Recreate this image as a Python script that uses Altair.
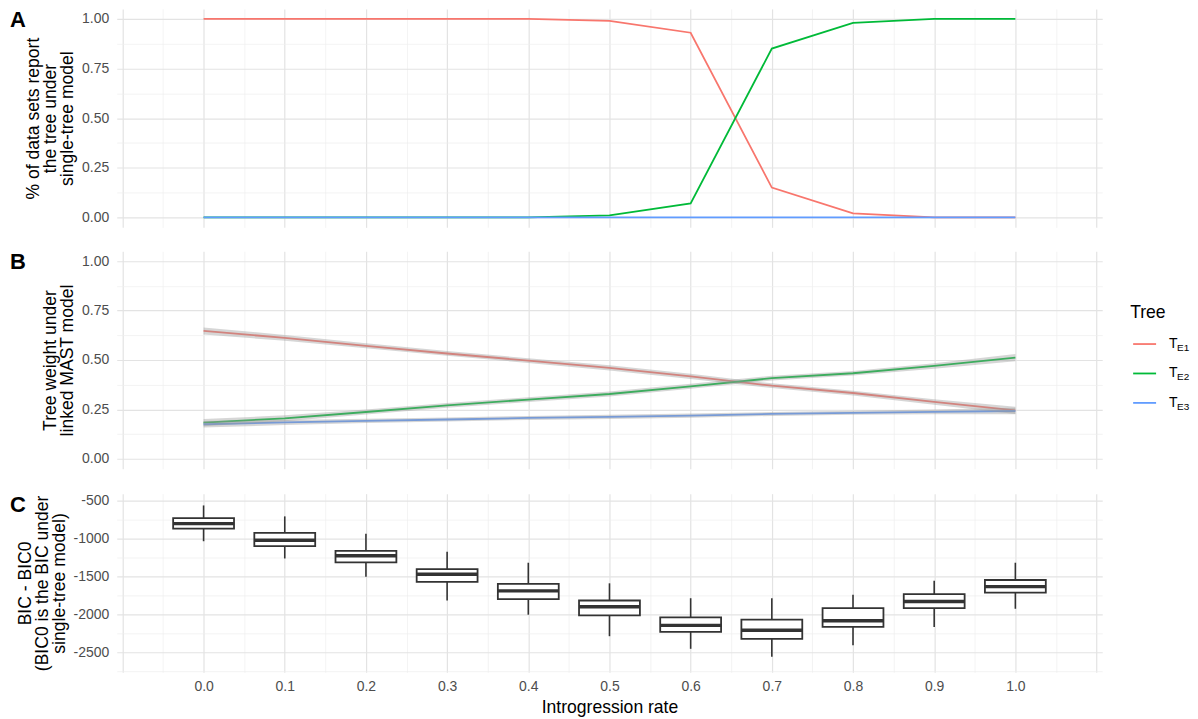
import altair as alt
import pandas as pd

# ---------------- data ----------------
rates = [0.0, 0.1, 0.2, 0.3, 0.4, 0.5, 0.6, 0.7, 0.8, 0.9, 1.0]
trees = ["TE1", "TE2", "TE3"]
tree_sub = ["E1", "E2", "E3"]
tree_colors = ["#F8766D", "#00BA38", "#619CFF"]

# Panel A: share of data sets reporting each tree under single-tree model
a_te1 = [1.0, 1.0, 1.0, 1.0, 1.0, 0.99, 0.93, 0.15, 0.02, 0.0, 0.0]
a_te2 = [0.0, 0.0, 0.0, 0.0, 0.0, 0.01, 0.07, 0.85, 0.98, 1.0, 1.0]
a_te3 = [0.0, 0.0, 0.0, 0.0, 0.0, 0.0, 0.0, 0.0, 0.0, 0.0, 0.0]

# Panel B: smoothed tree weight under linked MAST model (+ ribbon half width)
b_te1 = [0.647, 0.612, 0.572, 0.533, 0.497, 0.460, 0.417, 0.370, 0.333, 0.288, 0.245]
b_te2 = [0.183, 0.205, 0.237, 0.270, 0.300, 0.328, 0.367, 0.408, 0.433, 0.470, 0.512]
b_te3 = [0.175, 0.184, 0.192, 0.199, 0.207, 0.212, 0.219, 0.227, 0.233, 0.238, 0.242]
b_half1 = [0.018, 0.015, 0.013, 0.012, 0.012, 0.013, 0.013, 0.012, 0.012, 0.014, 0.018]
b_half2 = [0.018, 0.015, 0.013, 0.012, 0.012, 0.013, 0.013, 0.012, 0.012, 0.014, 0.018]
b_half3 = [0.016, 0.013, 0.011, 0.010, 0.010, 0.011, 0.011, 0.010, 0.010, 0.012, 0.016]

# Panel C: BIC - BIC0 box plots
c_wlo = [-1036, -1263, -1502, -1816, -2003, -2286, -2452, -2556, -2405, -2164, -1925]
c_q1 = [-870, -1101, -1314, -1572, -1798, -2012, -2229, -2321, -2164, -1916, -1712]
c_med = [-805, -1023, -1227, -1471, -1690, -1899, -2143, -2208, -2082, -1829, -1633]
c_q3 = [-731, -927, -1162, -1402, -1598, -1816, -2038, -2069, -1916, -1733, -1546]
c_whi = [-565, -709, -936, -1175, -1319, -1590, -1786, -1786, -1742, -1555, -1319]

# tick / grid values
x_grid = [-0.1, -0.05, 0.0, 0.05, 0.1, 0.15, 0.2, 0.25, 0.3, 0.35, 0.4, 0.45, 0.5,
          0.55, 0.6, 0.65, 0.7, 0.75, 0.8, 0.85, 0.9, 0.95, 1.0, 1.05, 1.1]
y_grid_ab = [0.0, 0.125, 0.25, 0.375, 0.5, 0.625, 0.75, 0.875, 1.0]
y_grid_c = [-2750, -2500, -2250, -2000, -1750, -1500, -1250, -1000, -750, -500]
y_labels_c = {-2500: "-2500", -2000: "-2000", -1500: "-1500", -1000: "-1000", -500: "-500"}

# ---------------- tables ----------------
dfA = pd.DataFrame({
    "rate": rates * 3,
    "tree": [trees[0]] * 11 + [trees[1]] * 11 + [trees[2]] * 11,
    "value": a_te1 + a_te2 + a_te3,
})
dfB = pd.DataFrame({
    "rate": rates * 3,
    "tree": [trees[0]] * 11 + [trees[1]] * 11 + [trees[2]] * 11,
    "value": b_te1 + b_te2 + b_te3,
    "half": b_half1 + b_half2 + b_half3,
})
dfC = pd.DataFrame({"rate": rates, "wlo": c_wlo, "q1": c_q1, "med": c_med,
                    "q3": c_q3, "whi": c_whi})
dfLeg = pd.DataFrame({"tree": trees, "sub": tree_sub, "T": ["T"] * 3})

# ---------------- styling ----------------
FONT = "Liberation Sans"
MAJOR = "#e3e3e3"
MINOR = "#eeeeee"

W = 988
HA, HB, HC = 219, 218, 179
xscale = alt.Scale(domain=[-0.107, 1.107], nice=False, zero=False)
color = alt.Color("tree:N", scale=alt.Scale(domain=trees, range=tree_colors), legend=None)

minor_x = "abs(round(datum.value*20)) % 2 == 1"
minor_y = "abs(round(datum.value*8)) % 2 == 1"
minor_c = "abs(round(datum.value/250)) % 2 == 1"


def grid_props(test):
    return dict(
        gridColor=alt.condition(test, alt.value(MINOR), alt.value(MAJOR)),
        gridWidth=alt.condition(test, alt.value(0.7), alt.value(1.2)),
    )


x_axis_blank = alt.Axis(values=x_grid, labels=False, ticks=False, domain=False,
                        title=None, grid=True, **grid_props(minor_x))
x_axis_c = alt.Axis(values=x_grid, ticks=False, domain=False, grid=True,
                    title="Introgression rate", labelOverlap=False, labelFlush=False,
                    labelExpr="(" + minor_x + " || datum.value < -0.01 || datum.value > 1.01) ? '' : format(datum.value, '.1f')",
                    labelPadding=7, titlePadding=5, **grid_props(minor_x))


def y_axis_ab(title):
    return alt.Axis(values=y_grid_ab, ticks=False, domain=False, grid=True,
                    title=title, labelOverlap=False,
                    labelExpr=minor_y + " ? '' : format(datum.value, '.2f')",
                    **grid_props(minor_y))


lab_c = " : ".join(
    "datum.value == %d ? '%s'" % (k, v) for k, v in y_labels_c.items()) + " : ''"
y_axis_c = alt.Axis(values=y_grid_c, ticks=False, domain=False, grid=True,
                    title=["BIC - BIC0", "(BIC0 is the BIC under", "single-tree model)"],
                    labelOverlap=False, labelFlush=False,
                    labelExpr=lab_c,
                    **grid_props(minor_c))


def letter(t):
    return alt.Chart(pd.DataFrame({"t": [t]})).mark_text(
        fontSize=22, fontWeight="bold", font=FONT, align="left", baseline="middle",
        color="black").encode(text="t:N", x=alt.value(-107), y=alt.value(11))


# ---------------- panel A ----------------
yA = alt.Scale(domain=[-0.05, 1.05], nice=False, zero=False)
lineA = alt.Chart(dfA).mark_line(strokeWidth=1.8).encode(
    x=alt.X("rate:Q", scale=xscale, axis=x_axis_blank),
    y=alt.Y("value:Q", scale=yA,
            axis=y_axis_ab(["% of data sets report", "the tree under", "single-tree model"])),
    color=color,
)
panelA = alt.layer(lineA, letter("A")).properties(width=W, height=HA)

# ---------------- panel B ----------------
yB = alt.Scale(domain=[-0.05, 1.05], nice=False, zero=False)
yaxB = y_axis_ab(["Tree weight under", "linked MAST model"])
lineB = alt.Chart(dfB).mark_line(strokeWidth=1.8).encode(
    x=alt.X("rate:Q", scale=xscale, axis=x_axis_blank),
    y=alt.Y("value:Q", scale=yB, axis=yaxB),
    color=color,
)
ribbonB = alt.Chart(dfB).transform_calculate(
    lo="datum.value - datum.half", hi="datum.value + datum.half"
).mark_area(color="#999999", opacity=0.4).encode(
    x=alt.X("rate:Q", scale=xscale, axis=x_axis_blank),
    y=alt.Y("lo:Q", scale=yB, axis=yaxB),
    y2="hi:Q",
    detail="tree:N",
)
dataB = alt.layer(lineB, ribbonB)

legY = alt.Y("tree:N", scale=alt.Scale(type="point", domain=trees, range=[93, 152], padding=0),
             axis=None)
legRule = alt.Chart(dfLeg).mark_rule(strokeWidth=1.8).encode(
    x=alt.value(1019), x2=alt.value(1042), y=legY, color=color)
legT = alt.Chart(dfLeg).mark_text(fontSize=14, font=FONT, align="left", baseline="middle",
                                  color="black").encode(x=alt.value(1055), y=legY, text="T:N")
legSub = alt.Chart(dfLeg).mark_text(fontSize=10, font=FONT, align="left", baseline="middle",
                                    color="black", dy=4).encode(x=alt.value(1063), y=legY, text="sub:N")
legTitle = alt.Chart(pd.DataFrame({"t": ["Tree"]})).mark_text(
    fontSize=17.6, font=FONT, align="left", baseline="middle", color="black"
).encode(x=alt.value(1016), y=alt.value(62), text="t:N")
legend = alt.layer(legRule, legT, legSub)

panelB = alt.layer(dataB, legend, legTitle, letter("B")).resolve_scale(y="independent").properties(width=W, height=HB)

# ---------------- panel C ----------------
yC = alt.Scale(domain=[-2760, -410], nice=False, zero=False)
baseC = alt.Chart(dfC).transform_calculate(
    xl="datum.rate - 0.0375", xr="datum.rate + 0.0375")
whisk = baseC.mark_rule(color="#333333", strokeWidth=1.6).encode(
    x=alt.X("rate:Q", scale=xscale, axis=x_axis_c),
    y=alt.Y("wlo:Q", scale=yC, axis=y_axis_c),
    y2="whi:Q",
)
box = baseC.mark_rect(fill="white", stroke="#333333", strokeWidth=1.8).encode(
    x=alt.X("xl:Q", scale=xscale, axis=x_axis_c), x2="xr:Q",
    y=alt.Y("q1:Q", scale=yC, axis=y_axis_c), y2="q3:Q",
)
median = baseC.mark_rule(color="#333333", strokeWidth=3.4).encode(
    x=alt.X("xl:Q", scale=xscale, axis=x_axis_c), x2="xr:Q",
    y=alt.Y("med:Q", scale=yC, axis=y_axis_c),
)
panelC = alt.layer(whisk, box, median, letter("C")).properties(width=W, height=HC)

chart = alt.vconcat(panelA, panelB, panelC, spacing=24).properties(
    padding={"left": 2, "top": 0, "right": 0, "bottom": 0}
).configure_view(stroke=None).configure_axis(
    labelFont=FONT, titleFont=FONT, labelFontSize=14, titleFontSize=17.6,
    labelColor="#4d4d4d", titleColor="black", titleFontWeight="normal",
    labelPadding=8, titlePadding=5, titleLineHeight=17,
).configure_text(font=FONT)

chart.save("out.html", embed_options={"renderer": "svg", "actions": False})
